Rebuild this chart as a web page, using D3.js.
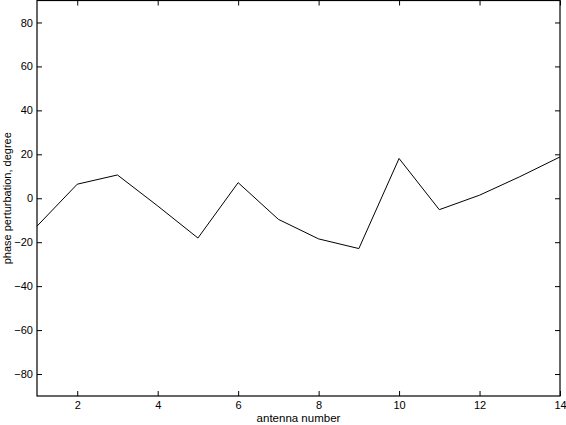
<!DOCTYPE html>
<html>
<head>
<meta charset="utf-8">
<script src="https://cdn.jsdelivr.net/npm/d3@7"></script>
<style>
  body { margin: 0; background: #fff; }
  svg text { font-family: "Liberation Sans", Arial, sans-serif; font-size: 11px; fill: #000; }
</style>
</head>
<body>
<svg id="visu" width="566" height="425"></svg>
<script>
// antenna index and measured phase perturbation (degrees)
var antennas = [1, 2, 3, 4, 5, 6, 7, 8, 9, 10, 11, 12, 13, 14];
var phase = [-12.7, 6.4, 10.6, -3.5, -18.1, 7.1, -9.6, -18.5, -22.9, 18.1, -5.2, 1.4, 9.8, 18.8];
var xTicks = [2, 4, 6, 8, 10, 12, 14];
var yTicks = [-80, -60, -40, -20, 0, 20, 40, 60, 80];

var vis = d3.select("#visu"),
    MARGINS = { top: 0, right: 6, bottom: 29, left: 37 },
    WIDTH = 566,
    HEIGHT = 425,
    TICK = 5;

var xScale = d3.scaleLinear()
    .domain([1, 14])
    .range([MARGINS.left, WIDTH - MARGINS.right]);
var yScale = d3.scaleLinear()
    .domain([-90, 90])
    .range([HEIGHT - MARGINS.bottom, MARGINS.top + 0.5]);

var plotW = xScale.range()[1] - xScale.range()[0],
    plotH = yScale.range()[0] - yScale.range()[1];

// bottom + left axes with inward ticks, labels outside
var xAxis = d3.axisBottom(xScale).tickValues(xTicks).tickSize(-TICK).tickPadding(5);
var yAxis = d3.axisLeft(yScale).tickValues(yTicks).tickSize(-TICK).tickPadding(4)
    .tickFormat(function(d) { return d < 0 ? "\u2212" + Math.abs(d) : d; });

vis.append("g")
    .attr("transform", "translate(0," + yScale.range()[0] + ")")
    .call(xAxis);
vis.append("g")
    .attr("transform", "translate(" + MARGINS.left + ",0)")
    .call(yAxis);

// mirrored ticks on top and right, no labels
vis.append("g")
    .attr("transform", "translate(0," + yScale.range()[1] + ")")
    .call(d3.axisTop(xScale).tickValues(xTicks).tickSize(-TICK).tickFormat(""));
vis.append("g")
    .attr("transform", "translate(" + xScale.range()[1] + ",0)")
    .call(d3.axisRight(yScale).tickValues(yTicks).tickSize(-TICK).tickFormat(""));

vis.selectAll(".domain").remove();
vis.selectAll(".tick line").attr("stroke", "#000").attr("stroke-width", 1);
vis.selectAll(".tick text").style("font-size", "11px");

// box
vis.append("rect")
    .attr("x", xScale.range()[0])
    .attr("y", yScale.range()[1])
    .attr("width", plotW)
    .attr("height", plotH)
    .attr("fill", "none")
    .attr("stroke", "#000")
    .attr("stroke-width", 1.2);

var lineGen = d3.line()
    .x(function(d, i) { return xScale(antennas[i]); })
    .y(function(d) { return yScale(d); });

vis.append("path")
    .attr("d", lineGen(phase))
    .attr("stroke", "#000")
    .attr("stroke-width", 1)
    .attr("fill", "none");

vis.append("text")
    .attr("x", (xScale.range()[0] + xScale.range()[1]) / 2)
    .attr("y", 422)
    .attr("text-anchor", "middle")
    .style("font-size", "11.5px")
    .text("antenna number");

vis.append("text")
    .attr("transform", "translate(11," + (yScale(0)) + ") rotate(-90)")
    .attr("text-anchor", "middle")
    .text("phase perturbation, degree");
</script>
</body>
</html>
